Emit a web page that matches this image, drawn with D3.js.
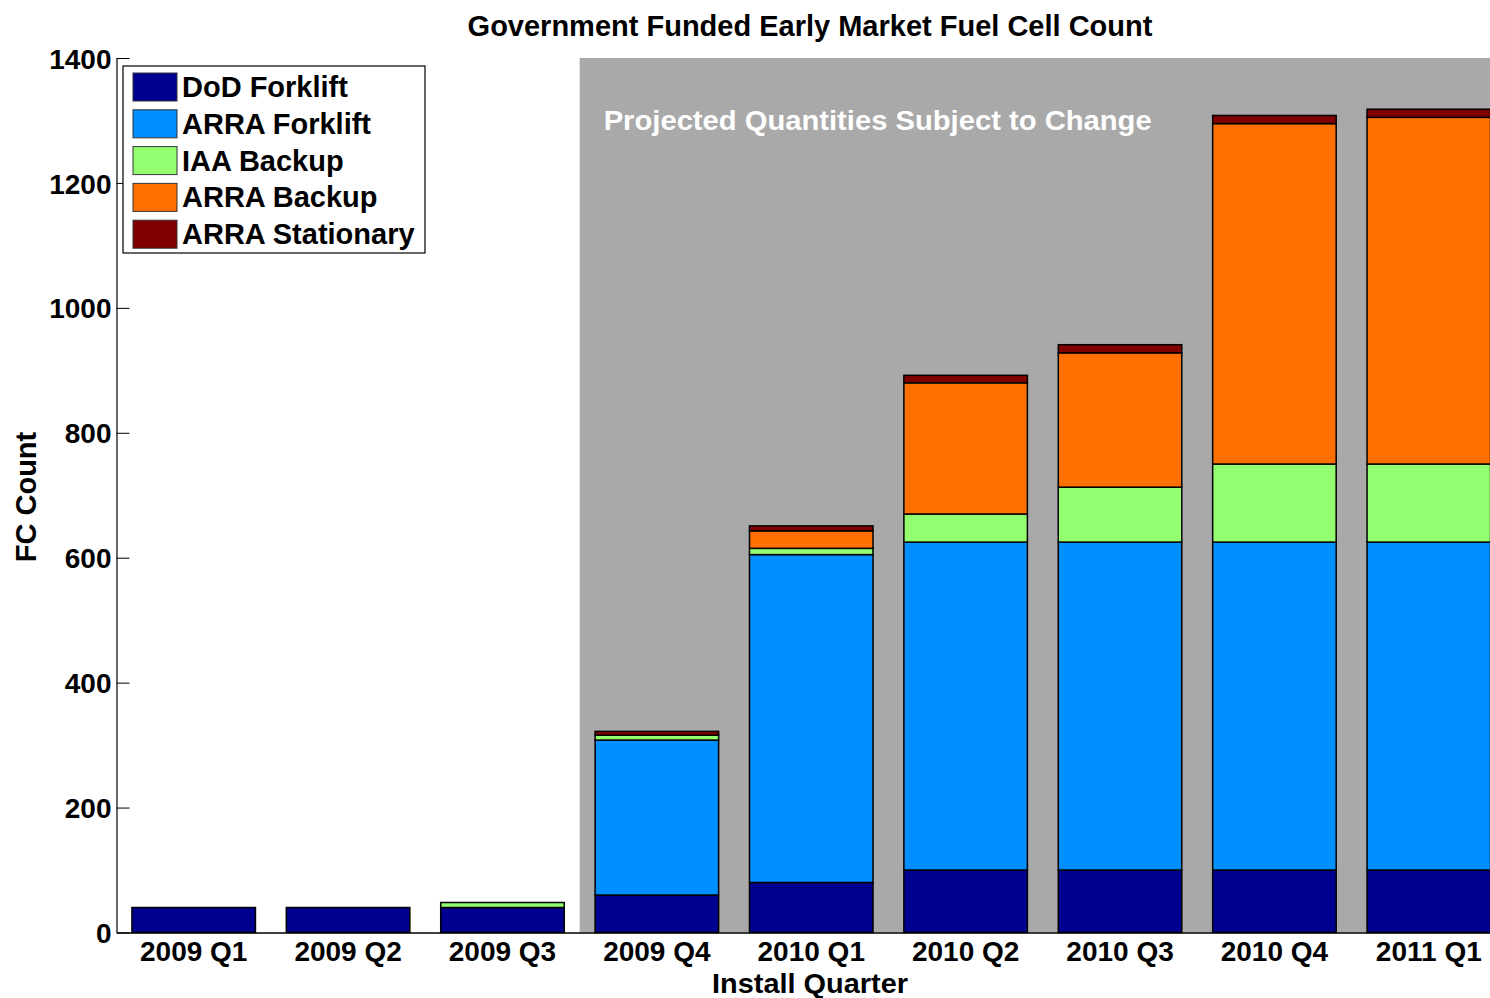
<!DOCTYPE html>
<html>
<head>
<meta charset="utf-8">
<script src="https://cdn.jsdelivr.net/npm/d3@7"></script>
<style>
  body { margin: 0; background: #fff; }
  text { font-family: "Liberation Sans", Arial, sans-serif; font-weight: bold; }
</style>
</head>
<body>
<div id="chart"></div>
<script>
// Data
const quarters = ["2009 Q1", "2009 Q2", "2009 Q3", "2009 Q4", "2010 Q1", "2010 Q2", "2010 Q3", "2010 Q4", "2011 Q1"];
const seriesNames = ["DoD Forklift", "ARRA Forklift", "IAA Backup", "ARRA Backup", "ARRA Stationary"];
const dodForklift    = [40, 40, 40, 60, 80, 100, 100, 100, 100];
const arraForklift   = [0, 0, 0, 248, 525, 525, 525, 525, 525];
const iaaBackup      = [0, 0, 8, 8, 10, 45, 88, 125, 125];
const arraBackup     = [0, 0, 0, 0, 28, 210, 215, 545, 555];
const arraStationary = [0, 0, 0, 6, 8, 12, 13, 13, 13];
const yTicks = [0, 200, 400, 600, 800, 1000, 1200, 1400];
const projectedFrom = "2009 Q4";
const colors = ["#000090", "#008fff", "#93ff70", "#ff7000", "#800000"];

const W = 1490, H = 998;
const margin = { top: 58, left: 117, bottom: 65 };
const plotRight = 1506; // axis runs past the window edge

const svg = d3.select("#chart").append("svg")
    .attr("width", W)
    .attr("height", H);

// Table for the stack
const table = quarters.map((q, i) => ({
  quarter: q,
  "DoD Forklift": dodForklift[i],
  "ARRA Forklift": arraForklift[i],
  "IAA Backup": iaaBackup[i],
  "ARRA Backup": arraBackup[i],
  "ARRA Stationary": arraStationary[i]
}));
const stacked = d3.stack().keys(seriesNames)(table);

const x = d3.scaleBand()
    .domain(quarters)
    .range([margin.left - 0.5, plotRight])
    .paddingInner(0.2)
    .paddingOuter(0.1);

const y = d3.scaleLinear()
    .domain([0, 1400])
    .range([H - margin.bottom - 0.5, margin.top]);

// Projected region
const projX = x(projectedFrom) - x.step() * x.paddingInner() / 2;
svg.append("rect")
    .attr("x", projX)
    .attr("y", y(1400))
    .attr("width", plotRight - projX)
    .attr("height", y(0) - y(1400))
    .attr("fill", "#a9a9a9");

svg.append("text")
    .attr("x", projX + 24)
    .attr("y", 130)
    .attr("fill", "#fff")
    .attr("font-size", 28)
    .attr("textLength", 548)
    .attr("lengthAdjust", "spacingAndGlyphs")
    .text("Projected Quantities Subject to Change");

// Bars
svg.append("g")
  .selectAll("g")
  .data(stacked)
  .join("g")
    .attr("fill", (d, i) => colors[i])
  .selectAll("rect")
  .data(d => d.filter(s => s[1] - s[0] > 0))
  .join("rect")
    .attr("x", d => x(d.data.quarter))
    .attr("y", d => y(d[1]))
    .attr("width", x.bandwidth())
    .attr("height", d => y(d[0]) - y(d[1]))
    .attr("stroke", "#000")
    .attr("stroke-width", 1.5);

// Y axis
const yAxis = svg.append("g")
    .attr("transform", "translate(" + (margin.left - 0.5) + ",0)")
    .call(d3.axisLeft(y).tickValues(yTicks).tickFormat(d3.format("d"))
      .tickSizeInner(-13).tickSizeOuter(0).tickPadding(5));
yAxis.select(".domain").attr("stroke", "#000").attr("stroke-width", 1.2);
yAxis.selectAll(".tick line").attr("stroke", "#000");
yAxis.selectAll(".tick text")
    .attr("font-size", 28)
    .attr("font-family", "Liberation Sans, Arial, sans-serif")
    .attr("font-weight", "bold")
    .attr("fill", "#000")
    .attr("dy", "0.36em");

// X axis
const xAxis = svg.append("g")
    .attr("transform", "translate(0," + y(0) + ")")
    .call(d3.axisBottom(x).tickSize(0).tickPadding(9));
xAxis.select(".domain").attr("stroke", "#000").attr("stroke-width", 1.5);
xAxis.selectAll(".tick text")
    .attr("font-size", 28)
    .attr("font-family", "Liberation Sans, Arial, sans-serif")
    .attr("font-weight", "bold")
    .attr("fill", "#000")
    .attr("dy", "0.71em");

// Title and axis labels
svg.append("text")
    .attr("x", 810)
    .attr("y", 36)
    .attr("text-anchor", "middle")
    .attr("font-size", 29)
    .text("Government Funded Early Market Fuel Cell Count");

svg.append("text")
    .attr("x", 810)
    .attr("y", 993)
    .attr("text-anchor", "middle")
    .attr("font-size", 28)
    .attr("textLength", 196)
    .attr("lengthAdjust", "spacingAndGlyphs")
    .text("Install Quarter");

svg.append("text")
    .attr("transform", "translate(36,497) rotate(-90)")
    .attr("text-anchor", "middle")
    .attr("font-size", 29)
    .text("FC Count");

// Legend
const legend = svg.append("g").attr("transform", "translate(123,66)");
legend.append("rect")
    .attr("width", 302)
    .attr("height", 187)
    .attr("fill", "#fff")
    .attr("stroke", "#000")
    .attr("stroke-width", 1.2);
seriesNames.forEach((name, i) => {
  const row = legend.append("g").attr("transform", "translate(0," + (7 + i * 36.8) + ")");
  row.append("rect")
      .attr("x", 10)
      .attr("width", 44)
      .attr("height", 28)
      .attr("fill", colors[i])
      .attr("stroke", "#333")
      .attr("stroke-width", 1);
  row.append("text")
      .attr("x", 59)
      .attr("y", 24)
      .attr("font-size", 29)
      .text(name);
});
</script>
</body>
</html>
